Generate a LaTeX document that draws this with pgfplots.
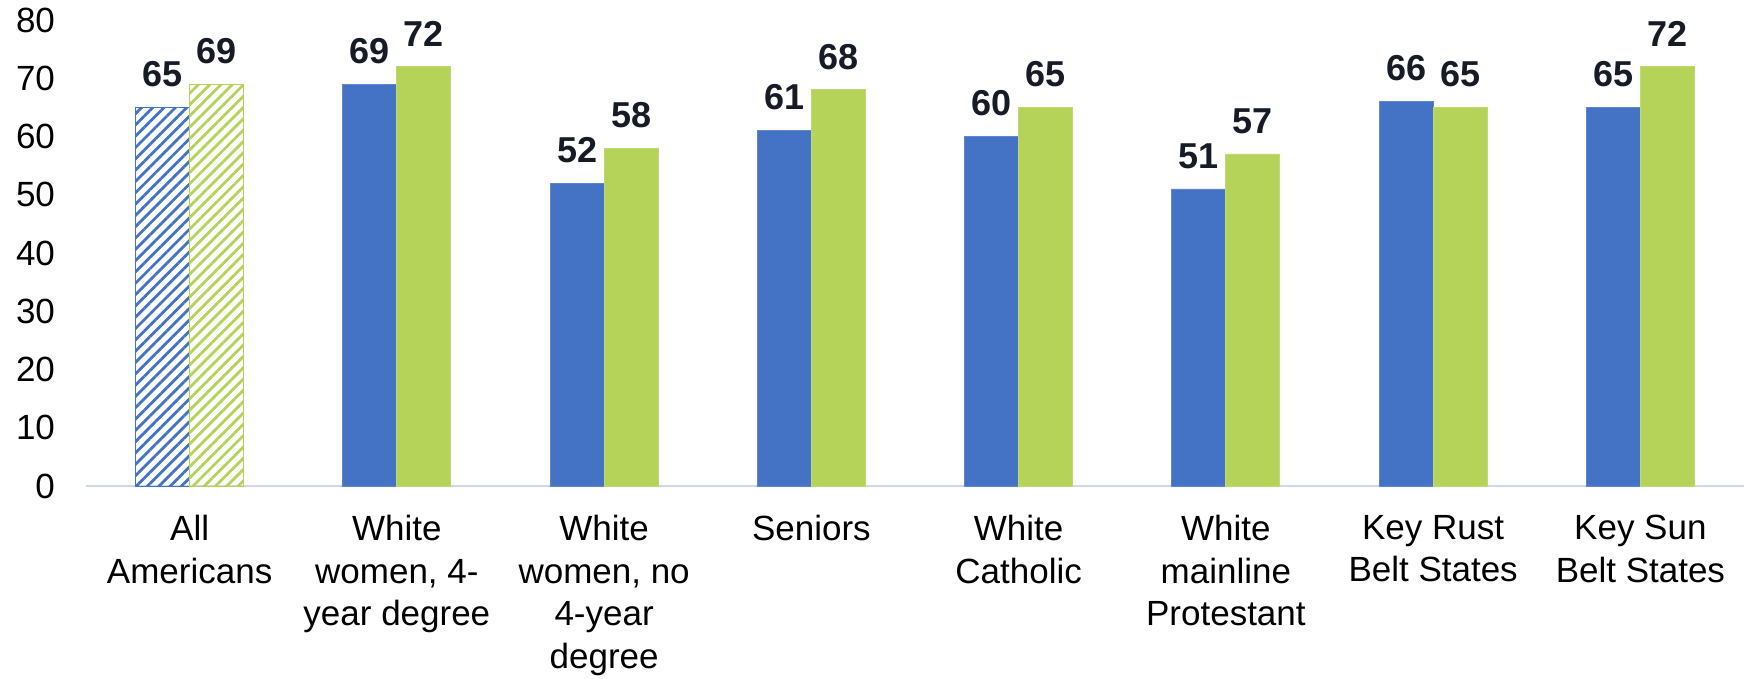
\documentclass[border=0pt]{standalone}
\usepackage{fontspec}
\setmainfont{Liberation Sans}
\usepackage{pgfplots}
\pgfplotsset{compat=1.18}
\usetikzlibrary{patterns.meta}
\definecolor{cblue}{RGB}{68,114,196}
\definecolor{cgreen}{RGB}{181,211,89}
\definecolor{vlab}{RGB}{22,27,38}
\definecolor{axl}{RGB}{207,216,232}
\begin{document}
\begin{tikzpicture}
\begin{axis}[
  scale only axis, width=829bp, height=233bp,
  xmin=-0.5, xmax=7.5, ymin=0, ymax=80,
  ytick={0,10,...,80},
  xtick={0,...,7},
  xticklabels={{All\\Americans},{White\\women, 4-\\year degree},{White\\women, no\\4-year\\degree},{Seniors},{White\\Catholic},{White\\mainline\\Protestant},{Key Rust\\Belt States},{Key Sun\\Belt States}},
  axis line style={draw=none},
  major tick length=0pt, tick style={draw=none},
  /pgf/number format/assume math mode=true,
  yticklabel style={font=\fontsize{17.5bp}{21bp}\selectfont, xshift=-12bp},
  xticklabel style={font=\fontsize{17.5bp}{21.4bp}\selectfont, align=center, yshift=-11bp},
  ybar, bar width=27bp,
  nodes near coords,
  every node near coord/.append style={font=\fontsize{18bp}{20bp}\bfseries\selectfont, text=vlab, inner sep=0pt, yshift=10bp},
  clip=false,
]
\draw[axl, line width=1bp] (axis cs:-0.5,0) -- (axis cs:7.5,0);
\addplot[fill=cblue, draw=cblue!85!white, bar shift=-13.5bp] coordinates {(1,69) (2,52) (3,61) (4,60) (5,51) (6,66) (7,65)};
\addplot[fill=cgreen, draw=cgreen!85!white, bar shift=13.5bp] coordinates {(1,72) (2,58) (3,68) (4,65) (5,57) (6,65) (7,72)};
\addplot[pattern={Lines[angle=45,distance=4bp,line width=1.4bp]}, pattern color=cblue, draw=cblue, bar shift=-13.5bp] coordinates {(0,65)};
\addplot[pattern={Lines[angle=45,distance=4bp,line width=1.4bp]}, pattern color=cgreen, draw=cgreen, bar shift=13.5bp] coordinates {(0,69)};
\end{axis}
\pgfresetboundingbox
\path ([shift={(-43bp,-96.5bp)}]current axis.south west) rectangle ([shift={(3bp,10bp)}]current axis.north east);
\end{tikzpicture}
\end{document}
